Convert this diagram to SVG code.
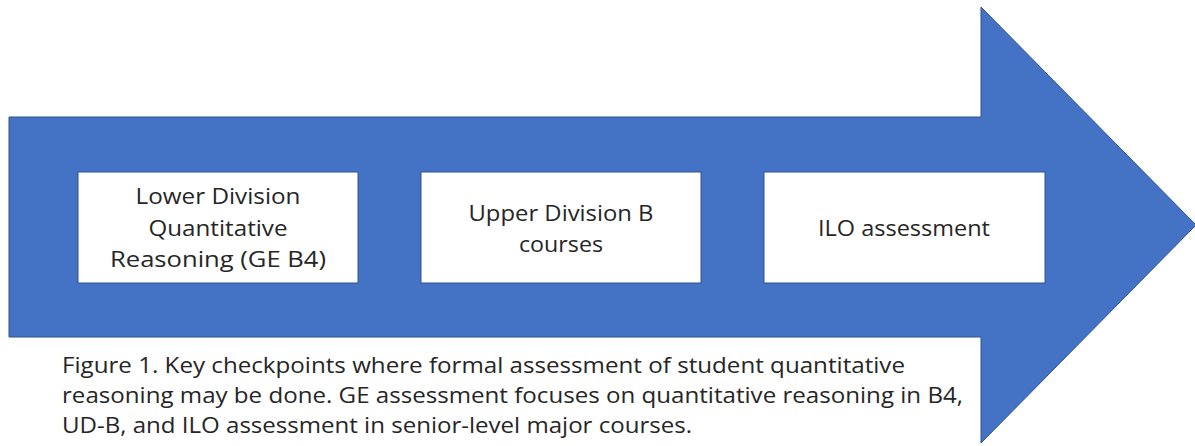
<svg xmlns="http://www.w3.org/2000/svg" width="1195" height="446" viewBox="0 0 1195 446">
<style>
.box{fill:#ffffff;stroke:#2F528F;stroke-width:1}
.lbl{font-family:"Open Sans","Liberation Sans",sans-serif;font-size:22px;fill:#262626;text-anchor:middle}
.cap{font-family:"Open Sans","Liberation Sans",sans-serif;font-size:22px;fill:#262626}
</style>
<rect x="0" y="0" width="1195" height="446" fill="#ffffff"/>
<g id="arrow">
<polygon points="9,117 981,117 981,7 1196,225 981,443 981,337 9,337" fill="#4472C4" stroke="#2F528F" stroke-width="1"/>
</g>
<g id="connectors"></g>
<g id="node-lower">
<rect class="box" x="78" y="172" width="280" height="111"/>
<text class="lbl" x="218" y="204" textLength="165" lengthAdjust="spacingAndGlyphs">Lower Division</text>
<text class="lbl" x="218" y="235.5" textLength="139" lengthAdjust="spacingAndGlyphs">Quantitative</text>
<text class="lbl" x="218" y="267" textLength="216" lengthAdjust="spacingAndGlyphs">Reasoning (GE B4)</text>
</g>
<g id="node-upper">
<rect class="box" x="421" y="172" width="280" height="111"/>
<text class="lbl" x="561" y="221" textLength="185" lengthAdjust="spacingAndGlyphs">Upper Division B</text>
<text class="lbl" x="561" y="252" textLength="84" lengthAdjust="spacingAndGlyphs">courses</text>
</g>
<g id="node-ilo">
<rect class="box" x="764" y="172" width="281" height="111"/>
<text class="lbl" x="904" y="236" textLength="172" lengthAdjust="spacingAndGlyphs">ILO assessment</text>
</g>
<g id="caption">
<text class="cap" x="62" y="373" textLength="843" lengthAdjust="spacingAndGlyphs">Figure 1. Key checkpoints where formal assessment of student quantitative</text>
<text class="cap" x="62" y="403" textLength="901" lengthAdjust="spacingAndGlyphs">reasoning may be done. GE assessment focuses on quantitative reasoning in B4,</text>
<text class="cap" x="62" y="433" textLength="630" lengthAdjust="spacingAndGlyphs">UD-B, and ILO assessment in senior-level major courses.</text>
</g>
</svg>
